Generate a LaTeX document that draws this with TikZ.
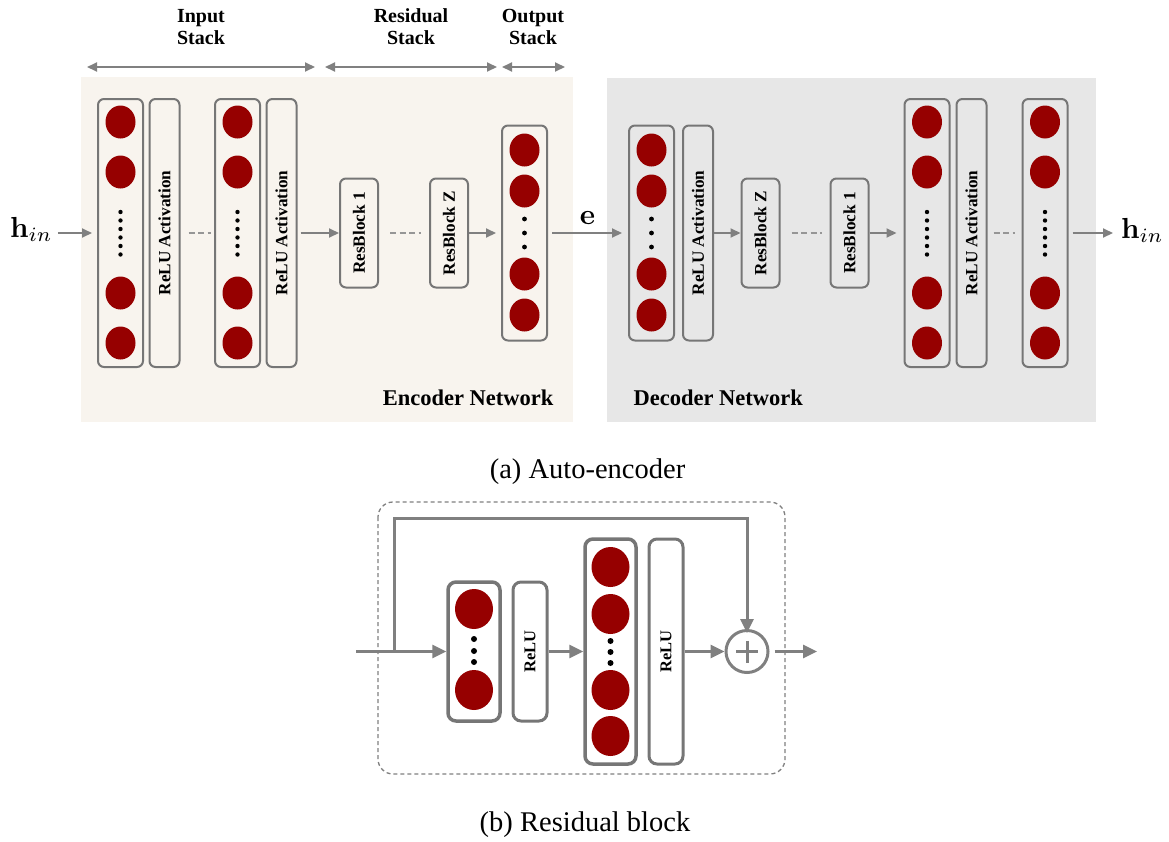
\documentclass[tikz,border=0pt]{standalone}
\usepackage[no-math]{fontspec}
\setmainfont{Liberation Serif}
\usepackage{graphicx}
\usetikzlibrary{arrows.meta,shapes.geometric,calc}

\definecolor{linegray}{RGB}{128,128,128}
\definecolor{boxgray}{RGB}{118,118,118}
\definecolor{dashgray}{RGB}{150,150,150}
\definecolor{neured}{RGB}{150,0,0}
\definecolor{encbg}{RGB}{248,244,238}
\definecolor{decbg}{RGB}{231,231,231}

\newcommand\lblfont{\bfseries\fontsize{20}{22}\selectfont}
\newcommand\boxfont{\bfseries\fontsize{17.2}{19}\selectfont}
\newcommand\netfont{\bfseries\fontsize{22.5}{24}\selectfont}
\newcommand\capfont{\fontsize{28.5}{30}\selectfont}
\newcommand\relufont{\bfseries\fontsize{16.5}{18}\selectfont}

\begin{document}
\begin{tikzpicture}[x=1pt,y=-1pt,
  lbox/.style={draw=boxgray, line width=2pt, rounded corners=6pt, inner sep=0pt},
  neuron/.style={ellipse, fill=neured, inner sep=0pt, minimum width=30pt, minimum height=33pt},
  bneuron/.style={ellipse, fill=neured, inner sep=0pt, minimum width=38pt, minimum height=40pt},
  vtext/.style={rotate=90, inner sep=0pt},
  arr/.style={draw=linegray, line width=2pt, -{Triangle[length=10pt,width=9pt]}},
  spanarr/.style={draw=linegray, line width=2pt, {Triangle[length=10pt,width=9pt]}-{Triangle[length=10pt,width=9pt]}},
  gapline/.style={draw=dashgray, line width=2pt, dash pattern=on 6pt off 3.5pt},
  rbox/.style={draw=boxgray, line width=3pt, rounded corners=8pt, inner sep=0pt, fill=white},
  rarr/.style={draw=linegray, line width=3pt, -{Triangle[length=14pt,width=13pt]}},
]
\useasboundingbox (0,0) rectangle (1169,841);

% ---------- backgrounds ----------
\fill[encbg] (81,77) rectangle (573,422);
\fill[decbg] (607,78) rectangle (1096,422);

% ---------- stack labels and spans ----------
\node[anchor=base, font=\lblfont] (inA) at (201,22) {Input};
\node[anchor=base, font=\lblfont] (inB) at (201,44) {Stack};
\node[anchor=base, font=\lblfont] (resA) at (411,22) {Residual};
\node[anchor=base, font=\lblfont] (resB) at (411,44) {Stack};
\node[anchor=base, font=\lblfont] (outA) at (533,22) {Output};
\node[anchor=base, font=\lblfont] (outB) at (533,44) {Stack};
\coordinate (s1a) at (87,67);  \coordinate (s1b) at (315,67);
\coordinate (s2a) at (325,67); \coordinate (s2b) at (497,67);
\coordinate (s3a) at (502,67); \coordinate (s3b) at (565,67);
\draw[spanarr] (s1a) -- (s1b);
\draw[spanarr] (s2a) -- (s2b);
\draw[spanarr] (s3a) -- (s3b);

% ---------- encoder ----------
\node[anchor=base west, inner sep=0pt] (hin) at (10,237) {\scalebox{2.9}{$\mathbf{h}_{in}$}};

\node[lbox, minimum width=45pt, minimum height=268pt] (L1) at (120.5,233) {};
\node[lbox, minimum width=30pt, minimum height=268pt] (R1) at (164.5,233) {};
\node[vtext, font=\boxfont] (R1t) at (R1) {ReLU Activation};
\node[lbox, minimum width=45pt, minimum height=268pt] (L2) at (237.5,233) {};
\node[lbox, minimum width=30pt, minimum height=268pt] (R2) at (281.5,233) {};
\node[vtext, font=\boxfont] (R2t) at (R2) {ReLU Activation};
\node[lbox, minimum width=38pt, minimum height=109pt] (RB1) at (359,233) {};
\node[vtext, font=\boxfont] (RB1t) at (RB1) {ResBlock 1};
\node[lbox, minimum width=38pt, minimum height=109pt] (RBZ) at (449,233) {};
\node[vtext, font=\boxfont] (RBZt) at (RBZ) {ResBlock Z};
\node[lbox, minimum width=45pt, minimum height=215pt] (O) at (524.5,233) {};

\foreach \y in {122,172,293,343} {
  \node[neuron] (L1n\y) at (120.5,\y) {};
  \node[neuron] (L2n\y) at (237.5,\y) {};
}
\foreach \y in {150,191,274,315} \node[neuron] (On\y) at (524.5,\y) {};
\foreach \y in {212,220.5,229,237.5,246,254.5} {
  \fill (120.5,\y) circle (2.2);
  \fill (237.5,\y) circle (2.2);
}
\foreach \y in {219,233,247} \fill (524.5,\y) circle (2.4);

\draw[arr, shorten <=5pt, shorten >=5pt] (hin.east |- L1.west) -- (L1.west);
\draw[gapline, shorten <=8pt, shorten >=3pt] (R1.east) -- (L2.west);
\draw[arr, shorten <=3pt] (R2.east) -- (RB1.west);
\draw[gapline, shorten <=11pt, shorten >=8pt] (RB1.east) -- (RBZ.west);
\draw[arr, shorten >=5pt] (RBZ.east) -- (O.west);

\node[anchor=base east, font=\netfont] (encname) at (557,405) {Encoder Network};

% ---------- decoder ----------
\node[lbox, minimum width=45pt, minimum height=215pt] (D1) at (651.5,233) {};
\node[lbox, minimum width=30pt, minimum height=215pt] (DR1) at (698,233) {};
\node[vtext, font=\boxfont] (DR1t) at (DR1) {ReLU Activation};
\node[lbox, minimum width=38pt, minimum height=109pt] (DZ) at (760.5,233) {};
\node[vtext, font=\boxfont] (DZt) at (DZ) {ResBlock Z};
\node[lbox, minimum width=38pt, minimum height=109pt] (D1b) at (849.5,233) {};
\node[vtext, font=\boxfont] (D1bt) at (D1b) {ResBlock 1};
\node[lbox, minimum width=45pt, minimum height=268pt] (DL1) at (927,233) {};
\node[lbox, minimum width=30pt, minimum height=268pt] (DR2) at (971.5,233) {};
\node[vtext, font=\boxfont] (DR2t) at (DR2) {ReLU Activation};
\node[lbox, minimum width=45pt, minimum height=268pt] (DL2) at (1045,233) {};

\foreach \y in {150,191,274,315} \node[neuron] (Dn\y) at (651.5,\y) {};
\foreach \y in {219,233,247} \fill (651.5,\y) circle (2.4);
\foreach \y in {122,172,293,343} {
  \node[neuron] (DL1n\y) at (927,\y) {};
  \node[neuron] (DL2n\y) at (1045,\y) {};
}
\foreach \y in {212,220.5,229,237.5,246,254.5} {
  \fill (927,\y) circle (2.2);
  \fill (1045,\y) circle (2.2);
}

\node[anchor=base west, inner sep=0pt] (hout) at (1121,238) {\scalebox{2.9}{$\mathbf{h}_{in}$}};
\node[anchor=base, inner sep=0pt] (elbl) at (587.5,224) {\scalebox{2.9}{$\mathbf{e}$}};

\draw[arr, shorten <=4pt, shorten >=6pt] (O.east) -- (D1.west);
\draw[arr] (DR1.east) -- (DZ.west);
\draw[gapline, shorten <=11pt, shorten >=8pt] (DZ.east) -- (D1b.west);
\draw[arr, shorten >=7pt] (D1b.east) -- (DL1.west);
\draw[gapline, shorten <=6pt, shorten >=7pt] (DR2.east) -- (DL2.west);
\draw[arr, shorten <=4pt, shorten >=8pt] (DL2.east) -- (DL2.east -| hout.west);

\node[anchor=base west, font=\netfont] (decname) at (630,405) {Decoder Network};

\node[anchor=base, font=\capfont] (capa) at (587.5,478) {(a) Auto-encoder};

% ---------- residual block ----------
\draw[draw=linegray, line width=1.3pt, dash pattern=on 4pt off 3pt, rounded corners=15pt]
  (378,502) rectangle (785,774);

\node[rbox, line width=3.5pt, minimum width=52pt, minimum height=139pt] (B1) at (474,651.5) {};
\node[rbox, minimum width=34pt, minimum height=139pt] (RL1) at (530,651.5) {};
\node[vtext, font=\relufont] (RL1t) at (RL1) {ReLU};
\node[rbox, line width=3.5pt, minimum width=51pt, minimum height=225pt] (B2) at (610.5,651.5) {};
\node[rbox, minimum width=34pt, minimum height=225pt] (RL2) at (666,651.5) {};
\node[vtext, font=\relufont] (RL2t) at (RL2) {ReLU};
\node[circle, draw=linegray, line width=3pt, minimum size=42pt, inner sep=0pt] (plus) at (747,651.5) {};
\draw[linegray, line width=3pt] (plus.center) +(-11,0) -- +(11,0);
\draw[linegray, line width=3pt] (plus.center) +(0,-11) -- +(0,11);

\foreach \y in {609,690} \node[bneuron] (B1n\y) at (474,\y) {};
\foreach \y in {639,651,662} \fill (474,\y) circle (3);
\foreach \y in {567,614,690,736} \node[bneuron] (B2n\y) at (610.5,\y) {};
\foreach \y in {641,652,663} \fill (610.5,\y) circle (3);

\coordinate (rin) at (356,651.5);
\coordinate (split) at (394,651.5);
\coordinate (skiptop) at (747,518);
\coordinate (rout) at (817,651.5);

\draw[rarr] (rin) -- (B1.west);
\draw[rarr] (split) |- (skiptop) -- ([yshift=-4pt]plus.north);
\draw[rarr] (RL1.east) -- (B2.west);
\draw[rarr] (RL2.east) -- (plus.west);
\draw[rarr, shorten <=5pt] (plus.east) -- (rout);

\node[anchor=base, font=\capfont] (capb) at (585,831) {(b) Residual block};
\end{tikzpicture}
\end{document}
